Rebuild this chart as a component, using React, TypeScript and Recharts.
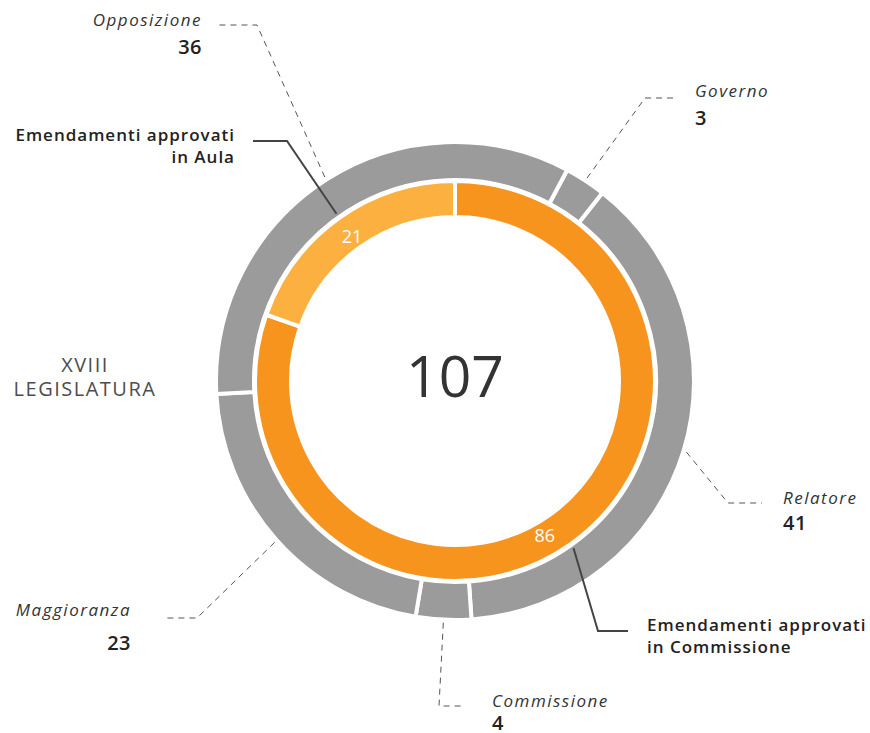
import { PieChart, Pie, Cell } from "recharts";

const INNER_NAMES: string[] = [
  "Emendamenti approvati in Commissione",
  "Emendamenti approvati in Aula",
];
const INNER_VALUES: number[] = [86, 21];
const INNER_COLORS: string[] = ["#F7941D", "#FBB040"];

const OUTER_NAMES: string[] = [
  "Governo",
  "Relatore",
  "Commissione",
  "Maggioranza",
  "Opposizione",
];
const OUTER_VALUES: number[] = [3, 41, 4, 23, 36];

const INNER_LABEL_LINES: string[][] = [
  ["Emendamenti approvati", "in Commissione"],
  ["Emendamenti approvati", "in Aula"],
];

const LEGISLATURA: string[] = ["XVIII", "LEGISLATURA"];

type ChartData = { name: string; value: number };

const innerData: ChartData[] = INNER_NAMES.map((name, i) => ({
  name,
  value: INNER_VALUES[i],
}));
const outerData: ChartData[] = OUTER_NAMES.map((name, i) => ({
  name,
  value: OUTER_VALUES[i],
}));
const total = INNER_VALUES.reduce((a, b) => a + b, 0);

const FONT = "'Open Sans', sans-serif";
const GRAY = "#9B9B9B";
const RAD = Math.PI / 180;

// leader-line layout for the annotations
type OuterLayout = {
  elbow: [number, number];
  end: [number, number];
  x: number;
  anchor: "start" | "end";
  nameY: number;
  valueY: number;
};
const OUTER_LAYOUT: OuterLayout[] = [
  { elbow: [645, 98], end: [675, 98], x: 695, anchor: "start", nameY: 97, valueY: 125 },
  { elbow: [728, 503], end: [762, 503], x: 783, anchor: "start", nameY: 504, valueY: 530 },
  { elbow: [439, 706], end: [463, 706], x: 492, anchor: "start", nameY: 707, valueY: 730 },
  { elbow: [197, 618], end: [163, 618], x: 131, anchor: "end", nameY: 616, valueY: 650 },
  { elbow: [257, 25], end: [219, 25], x: 202, anchor: "end", nameY: 26, valueY: 54 },
];

type InnerLayout = {
  elbow: [number, number];
  end: [number, number];
  x: number;
  anchor: "start" | "end";
  y: number;
  shift: number;
};
const INNER_LAYOUT: InnerLayout[] = [
  { elbow: [598, 631], end: [628, 631], x: 647, anchor: "start", y: 631, shift: -5 },
  { elbow: [287, 141], end: [253, 141], x: 235, anchor: "end", y: 141, shift: 0 },
];

const polar = (cx: number, cy: number, r: number, angle: number) => [
  cx + r * Math.cos(-angle * RAD),
  cy + r * Math.sin(-angle * RAD),
];

const renderOuterLabel = (props: any) => {
  const { cx, cy, midAngle, outerRadius, index, name, value } = props;
  const lay = OUTER_LAYOUT[index];
  const [sx, sy] = polar(cx, cy, outerRadius + 3, midAngle);
  return (
    <g key={`ol-${index}`}>
      <polyline
        points={`${sx},${sy} ${lay.elbow[0]},${lay.elbow[1]} ${lay.end[0]},${lay.end[1]}`}
        fill="none"
        stroke="#555"
        strokeWidth={1}
        strokeDasharray="6 5"
      />
      <text
        x={lay.x}
        y={lay.nameY}
        textAnchor={lay.anchor}
        fontFamily={FONT}
        fontStyle="italic"
        fontSize={17}
        letterSpacing={1.5}
        fill="#333"
      >
        {name}
      </text>
      <text
        x={lay.x}
        y={lay.valueY}
        textAnchor={lay.anchor}
        fontFamily={FONT}
        fontWeight={600}
        fontSize={20}
        letterSpacing={0.5}
        fill="#222"
      >
        {value}
      </text>
    </g>
  );
};

const renderInnerLabel = (props: any) => {
  const { cx, cy, midAngle, outerRadius, innerRadius, index, value } = props;
  const lay = INNER_LAYOUT[index];
  const [sx, sy] = polar(cx, cy, outerRadius + 5, midAngle);
  const [vx, vy] = polar(cx, cy, (innerRadius + outerRadius) / 2 - 4, midAngle + lay.shift);
  return (
    <g key={`il-${index}`}>
      <polyline
        points={`${sx},${sy} ${lay.elbow[0]},${lay.elbow[1]} ${lay.end[0]},${lay.end[1]}`}
        fill="none"
        stroke="#444"
        strokeWidth={2}
      />
      {INNER_LABEL_LINES[index].map((line, i) => (
        <text
          key={i}
          x={lay.x}
          y={lay.y + i * 22}
          textAnchor={lay.anchor}
          fontFamily={FONT}
          fontWeight={600}
          fontSize={17}
          letterSpacing={1}
          fill="#222"
        >
          {line}
        </text>
      ))}
      <text
        x={vx}
        y={vy}
        textAnchor="middle"
        dominantBaseline="central"
        fontFamily={FONT}
        fontSize={18}
        fill="#fff"
      >
        {value}
      </text>
    </g>
  );
};

const App = () => {
  const cx = 455;
  const cy = 381;
  return (
    <div style={{ position: "absolute", left: 0, top: 0, width: 870, height: 733, background: "#fff" }}>
      <PieChart width={870} height={733} margin={{ top: 0, right: 0, bottom: 0, left: 0 }}>
        <Pie
          data={innerData}
          dataKey="value"
          nameKey="name"
          cx={cx}
          cy={cy}
          innerRadius={164}
          outerRadius={200}
          startAngle={90}
          endAngle={-270}
          stroke="#fff"
          strokeWidth={4}
          label={renderInnerLabel}
          labelLine={false}
          isAnimationActive={false}
        >
          {innerData.map((_, i) => (
            <Cell key={i} fill={INNER_COLORS[i]} />
          ))}
        </Pie>
        <Pie
          data={outerData}
          dataKey="value"
          nameKey="name"
          cx={cx}
          cy={cy}
          innerRadius={201}
          outerRadius={239}
          startAngle={62}
          endAngle={-298}
          stroke="#fff"
          strokeWidth={4}
          fill={GRAY}
          label={renderOuterLabel}
          labelLine={false}
          isAnimationActive={false}
        >
          {outerData.map((_, i) => (
            <Cell key={i} fill={GRAY} />
          ))}
        </Pie>
        <text
          x={cx}
          y={cy - 6}
          textAnchor="middle"
          dominantBaseline="central"
          fontFamily={FONT}
          fontSize={57}
          fill="#333"
        >
          {total}
        </text>
        {LEGISLATURA.map((line, i) => (
          <text
            key={line}
            x={85}
            y={372 + i * 24}
            textAnchor="middle"
            fontFamily={FONT}
            fontSize={20}
            fontWeight={500}
            letterSpacing={1.5}
            fill="#4d4d4d"
          >
            {line}
          </text>
        ))}
      </PieChart>
    </div>
  );
};

export default App;
